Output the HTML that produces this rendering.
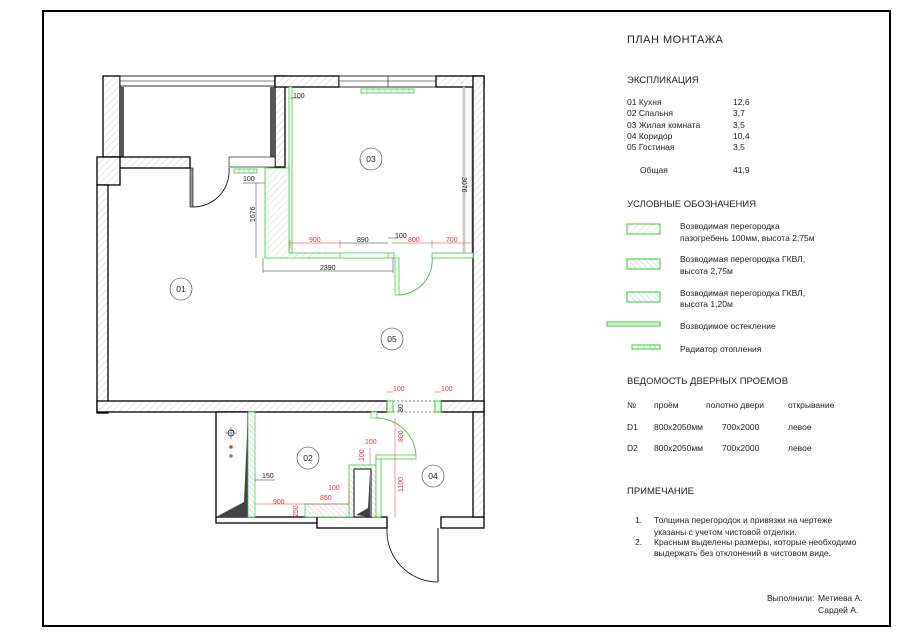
<!DOCTYPE html>
<html><head><meta charset="utf-8">
<style>
html,body{margin:0;padding:0;background:#fff;}
svg{display:block;}
text{font-family:"Liberation Sans",sans-serif;fill:#222;}
.t{font-size:8.5px;}
.h{font-size:9.5px;}
.r{fill:#e33;font-size:7px;}
.d{font-size:7px;}
</style></head><body>
<svg width="900" height="637" viewBox="0 0 900 637" xmlns="http://www.w3.org/2000/svg">
<defs>
<pattern id="hx" width="5" height="5" patternUnits="userSpaceOnUse" patternTransform="rotate(45)">
<rect width="5" height="5" fill="#fff"/><line x1="0" y1="0" x2="0" y2="5" stroke="#aaa" stroke-width="0.6"/></pattern>
<pattern id="hg" width="5" height="5" patternUnits="userSpaceOnUse" patternTransform="rotate(45)">
<rect width="5" height="5" fill="#fff"/><line x1="0" y1="0" x2="0" y2="5" stroke="#7c7" stroke-width="0.6"/></pattern>
<pattern id="hb" width="4" height="4" patternUnits="userSpaceOnUse" patternTransform="rotate(-45)">
<rect width="4" height="4" fill="#fff"/><line x1="0" y1="0" x2="0" y2="4" stroke="#89b" stroke-width="0.6"/></pattern>
</defs>
<rect x="0" y="0" width="900" height="637" fill="#fff"/>
<rect x="43" y="11" width="847" height="615" fill="none" stroke="#000" stroke-width="2"/>

<g stroke="#000" stroke-width="1.3">
<!-- balcony left wall -->
<rect x="103" y="76" width="17" height="81" fill="url(#hx)"/>
<rect x="119" y="87" width="5" height="70" fill="#555" stroke="none"/>
<!-- balcony glazing -->
<rect x="120" y="76" width="155" height="10" fill="#fff" stroke-width="0.8"/>
<line x1="120" y1="81" x2="275" y2="81" stroke-width="0.6"/>
<!-- column 275 -->
<rect x="275" y="76" width="10" height="91" fill="url(#hx)"/>
<rect x="270" y="87" width="5" height="70" fill="#555" stroke="none"/>
<!-- top wall room 03 -->
<rect x="275" y="76" width="64" height="11" fill="url(#hx)"/>
<rect x="339" y="76" width="97" height="11" fill="#fff" stroke-width="0.8"/>
<line x1="339" y1="81" x2="436" y2="81" stroke-width="0.6"/>
<line x1="388" y1="76" x2="388" y2="87" stroke-width="0.6"/>
<rect x="436" y="76" width="48" height="11" fill="url(#hx)"/>
<!-- right wall -->
<rect x="473" y="76" width="11" height="336" fill="url(#hx)"/>
<!-- wall between balcony and 01 -->
<rect x="108" y="157" width="82" height="11" fill="url(#hx)"/>
<rect x="97" y="157" width="23" height="28" fill="url(#hx)"/>
<rect x="229" y="157" width="46" height="10" fill="#fff" stroke-width="0.6"/>
<!-- left wall 01 -->
<rect x="97" y="185" width="11" height="228" fill="url(#hx)"/>
<!-- bottom wall -->
<rect x="97" y="401" width="290" height="11" fill="url(#hx)"/>
<rect x="441" y="401" width="43" height="11" fill="url(#hx)"/>
</g>
<!-- door 01 (balcony) -->
<rect x="190" y="168" width="3" height="39" fill="#999" stroke="#000" stroke-width="0.6"/>
<path d="M193 207 A36 36 0 0 0 229 168" fill="none" stroke="#000" stroke-width="0.8"/>
<!-- shaft between -->
<path d="M269 168 L285 168 L283 226 L272 232 L269 232 Z" fill="#fff" stroke="#000" stroke-width="1.2"/>
<path d="M275 230 L283 226 L283 232 L272 232 Z" fill="#444"/>
<!-- room 03 partitions -->
<rect x="289" y="87" width="3" height="166" fill="#fff" stroke="#3c3" stroke-width="0.8"/>
<path d="M265 168 L289 168 L289 253 L394 253 L394 258 L265 258 Z" fill="url(#hg)" stroke="#3c3" stroke-width="0.8"/>
<rect x="340" y="253" width="48" height="5" fill="#fff" stroke="#3c3" stroke-width="0.6"/>
<rect x="432" y="253" width="41" height="5" fill="#fff" stroke="#3c3" stroke-width="0.8"/>
<rect x="395" y="258" width="4" height="37" fill="url(#hg)" stroke="#3c3" stroke-width="0.7"/>
<path d="M399 295 A35 35 0 0 0 432 256" fill="none" stroke="#3c3" stroke-width="0.9"/>
<rect x="463" y="87" width="2" height="166" fill="#ddd" stroke="#888" stroke-width="0.4"/>
<!-- radiators -->
<g fill="#fff" stroke="#3c3" stroke-width="0.8">
<rect x="361" y="89" width="53" height="4"/>
<rect x="234" y="169" width="23" height="4"/>
</g>
<g stroke="#3c3" stroke-width="0.5">
<line x1="367" y1="89" x2="367" y2="93"/><line x1="373" y1="89" x2="373" y2="93"/><line x1="379" y1="89" x2="379" y2="93"/><line x1="385" y1="89" x2="385" y2="93"/><line x1="391" y1="89" x2="391" y2="93"/><line x1="397" y1="89" x2="397" y2="93"/><line x1="403" y1="89" x2="403" y2="93"/><line x1="409" y1="89" x2="409" y2="93"/>
<line x1="239" y1="169" x2="239" y2="173"/><line x1="244" y1="169" x2="244" y2="173"/><line x1="249" y1="169" x2="249" y2="173"/><line x1="254" y1="169" x2="254" y2="173"/>
</g>
<!-- dimensions upper -->
<g stroke="#333" stroke-width="0.5" fill="none">
<line x1="290" y1="98" x2="300" y2="98"/>
<line x1="243" y1="183" x2="265" y2="183"/>
<line x1="256" y1="183" x2="256" y2="258"/>
<line x1="263" y1="271" x2="393" y2="271"/><line x1="263" y1="258" x2="263" y2="273"/><line x1="393" y1="258" x2="393" y2="273"/>
<line x1="340" y1="243" x2="388" y2="243"/>
<line x1="388" y1="238" x2="398" y2="238"/>
<line x1="472" y1="87" x2="472" y2="253"/>
</g>
<g stroke="#e33" stroke-width="0.5">
<line x1="290" y1="243" x2="340" y2="243"/><line x1="392" y1="243" x2="473" y2="243"/>
<line x1="290" y1="240" x2="290" y2="248"/><line x1="340" y1="240" x2="340" y2="248"/><line x1="432" y1="240" x2="432" y2="248"/>
</g>
<text class="d" x="293" y="98">100</text>
<text class="d" x="243" y="181">100</text>
<text class="d" x="255" y="222" transform="rotate(-90 255 222)">1676</text>
<text class="d" x="462" y="177" transform="rotate(90 462 177)">3076</text>
<text class="r" x="309" y="242">900</text>
<text class="d" x="357" y="242">890</text>
<text class="d" x="395" y="238">100</text>
<text class="r" x="408" y="242">800</text>
<text class="r" x="446" y="242">700</text>
<text class="d" x="320" y="270">2390</text>

<!-- lower area -->
<g stroke="#000" stroke-width="1.3">
<rect x="216" y="412" width="32" height="105" fill="#fff"/>
<rect x="216" y="517" width="101" height="6" fill="#fff"/>
<rect x="317" y="517" width="70" height="11" fill="#fff"/>
<rect x="441" y="517" width="43" height="11" fill="#fff"/>
<rect x="473" y="412" width="11" height="105" fill="url(#hx)"/>
</g>
<path d="M216 517 L244 502 L248 412 L248 517 Z" fill="#444"/>
<rect x="248" y="412" width="7" height="105" fill="url(#hb)" stroke="#3c3" stroke-width="0.7"/>
<!-- door opening dashes -->
<g stroke="#000" stroke-width="0.6" stroke-dasharray="2,2">
<line x1="393" y1="401" x2="435" y2="401"/><line x1="393" y1="412" x2="435" y2="412"/>
</g>
<rect x="387" y="401" width="6" height="11" fill="url(#hg)" stroke="#3c3"/>
<rect x="435" y="401" width="6" height="11" fill="url(#hg)" stroke="#3c3"/>
<!-- bathroom block -->
<path d="M349 465 L376 465 L376 517 L349 517 Z" fill="url(#hb)" stroke="#3c3" stroke-width="0.8"/>
<path d="M354 469 L371 469 L371 517 L354 517 Z" fill="#fff" stroke="#000" stroke-width="1"/>
<path d="M356 515 L368 508 L370 472 L370 517 Z" fill="#444"/>
<rect x="376" y="455" width="5" height="62" fill="#fff" stroke="#3c3" stroke-width="0.8"/>
<rect x="305" y="504" width="44" height="13" fill="url(#hb)" stroke="#3c3" stroke-width="0.7"/>
<rect x="376" y="455" width="40" height="4" fill="#fff" stroke="#3c3" stroke-width="0.7"/>
<rect x="371" y="412" width="6" height="6" fill="#fff" stroke="#3c3" stroke-width="0.7"/>
<path d="M377 418 A40 40 0 0 1 416 455" fill="none" stroke="#3c3" stroke-width="0.9"/>
<!-- entrance door -->
<line x1="438" y1="528" x2="438" y2="582" stroke="#000" stroke-width="1"/>
<path d="M387 528 A51 51 0 0 0 438 582" fill="none" stroke="#000" stroke-width="0.8"/>
<!-- dims lower -->
<g stroke="#e33" stroke-width="0.5">
<line x1="255" y1="504" x2="305" y2="504"/><line x1="305" y1="504" x2="349" y2="504"/>
<line x1="349" y1="488" x2="349" y2="504"/><line x1="370" y1="448" x2="370" y2="465"/>
<line x1="395" y1="418" x2="395" y2="517"/>
<line x1="387" y1="392" x2="393" y2="392"/><line x1="435" y1="392" x2="441" y2="392"/>
</g>
<text class="r" x="393" y="391">100</text>
<text class="r" x="441" y="391">100</text>
<text class="d" x="403" y="412" transform="rotate(-90 403 412)">80</text>
<text class="r" x="365" y="444">100</text>
<text class="r" x="364" y="461" transform="rotate(-90 364 461)">100</text>
<text class="r" x="403" y="442" transform="rotate(-90 403 442)">800</text>
<text class="r" x="403" y="492" transform="rotate(-90 403 492)">1100</text>
<text class="r" x="328" y="490">100</text>
<text class="r" x="320" y="500">850</text>
<text class="r" x="273" y="504">900</text>
<text class="r" x="298" y="517" transform="rotate(-90 298 517)">250</text>
<text class="d" x="262" y="478">150</text>
<line x1="255" y1="480" x2="275" y2="480" stroke="#333" stroke-width="0.5"/>
<!-- pipe symbols -->
<circle cx="231" cy="433" r="3" fill="none" stroke="#000" stroke-width="0.7"/>
<line x1="225" y1="433" x2="237" y2="433" stroke="#000" stroke-width="0.4"/><line x1="231" y1="427" x2="231" y2="439" stroke="#000" stroke-width="0.4"/>
<circle cx="231" cy="447" r="1.8" fill="#e33"/><circle cx="231" cy="456" r="1.8" fill="#58c"/>

<!-- room labels -->
<g fill="#fff" stroke="#333" stroke-width="0.6">
<circle cx="371" cy="159" r="11"/><circle cx="181" cy="289" r="11"/><circle cx="392" cy="339" r="11"/>
<circle cx="308" cy="458" r="11"/><circle cx="433" cy="476" r="11"/>
</g>
<g class="t" text-anchor="middle">
<text x="371" y="162">03</text><text x="181" y="292">01</text><text x="392" y="342">05</text>
<text x="308" y="461">02</text><text x="433" y="479">04</text>
</g>

<!-- right panel -->
<text class="h" x="627" y="43" style="font-size:11px;letter-spacing:0.5px">ПЛАН МОНТАЖА</text>
<text class="h" x="627" y="83">ЭКСПЛИКАЦИЯ</text>
<g class="t">
<text x="627" y="105">01 Кухня</text><text x="733" y="105">12,6</text>
<text x="627" y="116">02 Спальня</text><text x="733" y="116">3,7</text>
<text x="627" y="128">03 Жилая комната</text><text x="733" y="128">3,5</text>
<text x="627" y="139">04 Коридор</text><text x="733" y="139">10,4</text>
<text x="627" y="150">05 Гостиная</text><text x="733" y="150">3,5</text>
<text x="640" y="173">Общая</text><text x="733" y="173">41,9</text>
</g>
<text class="h" x="627" y="207">УСЛОВНЫЕ ОБОЗНАЧЕНИЯ</text>
<rect x="627" y="224" width="33" height="10" fill="url(#hg)" stroke="#3c3"/>
<rect x="627" y="259" width="33" height="10" fill="url(#hb)" stroke="#3c3"/>
<rect x="627" y="292" width="33" height="10" fill="url(#hb)" stroke="#3c3"/>
<rect x="607" y="322" width="53" height="4" fill="#fff" stroke="#3c3"/>
<line x1="607" y1="324" x2="660" y2="324" stroke="#3c3" stroke-width="0.5"/>
<rect x="632" y="345" width="28" height="4" fill="#fff" stroke="#3c3"/>
<g stroke="#3c3" stroke-width="0.5"><line x1="638" y1="345" x2="638" y2="349"/><line x1="644" y1="345" x2="644" y2="349"/><line x1="650" y1="345" x2="650" y2="349"/><line x1="655" y1="345" x2="655" y2="349"/></g>
<g class="t">
<text x="680" y="229">Возводимая перегородка</text>
<text x="680" y="241">пазогребень 100мм, высота 2,75м</text>
<text x="680" y="262">Возводимая перегородка ГКВЛ,</text>
<text x="680" y="274">высота 2,75м</text>
<text x="680" y="296">Возводимая перегородка ГКВЛ,</text>
<text x="680" y="307">высота 1,20м</text>
<text x="680" y="329">Возводимое остекление</text>
<text x="680" y="352">Радиатор отопления</text>
</g>
<text class="h" x="627" y="384">ВЕДОМОСТЬ ДВЕРНЫХ ПРОЕМОВ</text>
<g class="t">
<text x="627" y="408">№</text><text x="654" y="408">проём</text><text x="706" y="408">полотно двери</text><text x="788" y="408">открывание</text>
<text x="627" y="430">D1</text><text x="654" y="430">800x2050мм</text><text x="722" y="430">700x2000</text><text x="788" y="430">левое</text>
<text x="627" y="451">D2</text><text x="654" y="451">800x2050мм</text><text x="722" y="451">700x2000</text><text x="788" y="451">левое</text>
</g>
<text class="h" x="627" y="494">ПРИМЕЧАНИЕ</text>
<g class="t">
<text x="635" y="523">1.</text><text x="654" y="523">Толщина перегородок и привязки на чертеже</text>
<text x="654" y="535">указаны с учетом чистовой отделки.</text>
<text x="635" y="545">2.</text><text x="654" y="545">Красным выделены размеры, которые необходимо</text>
<text x="654" y="556">выдержать без отклонений в чистовом виде.</text>
<text x="767" y="601">Выполнили:</text><text x="818" y="601">Метиева А.</text>
<text x="818" y="613">Сардей А.</text>
</g>
</svg>
</body></html>
